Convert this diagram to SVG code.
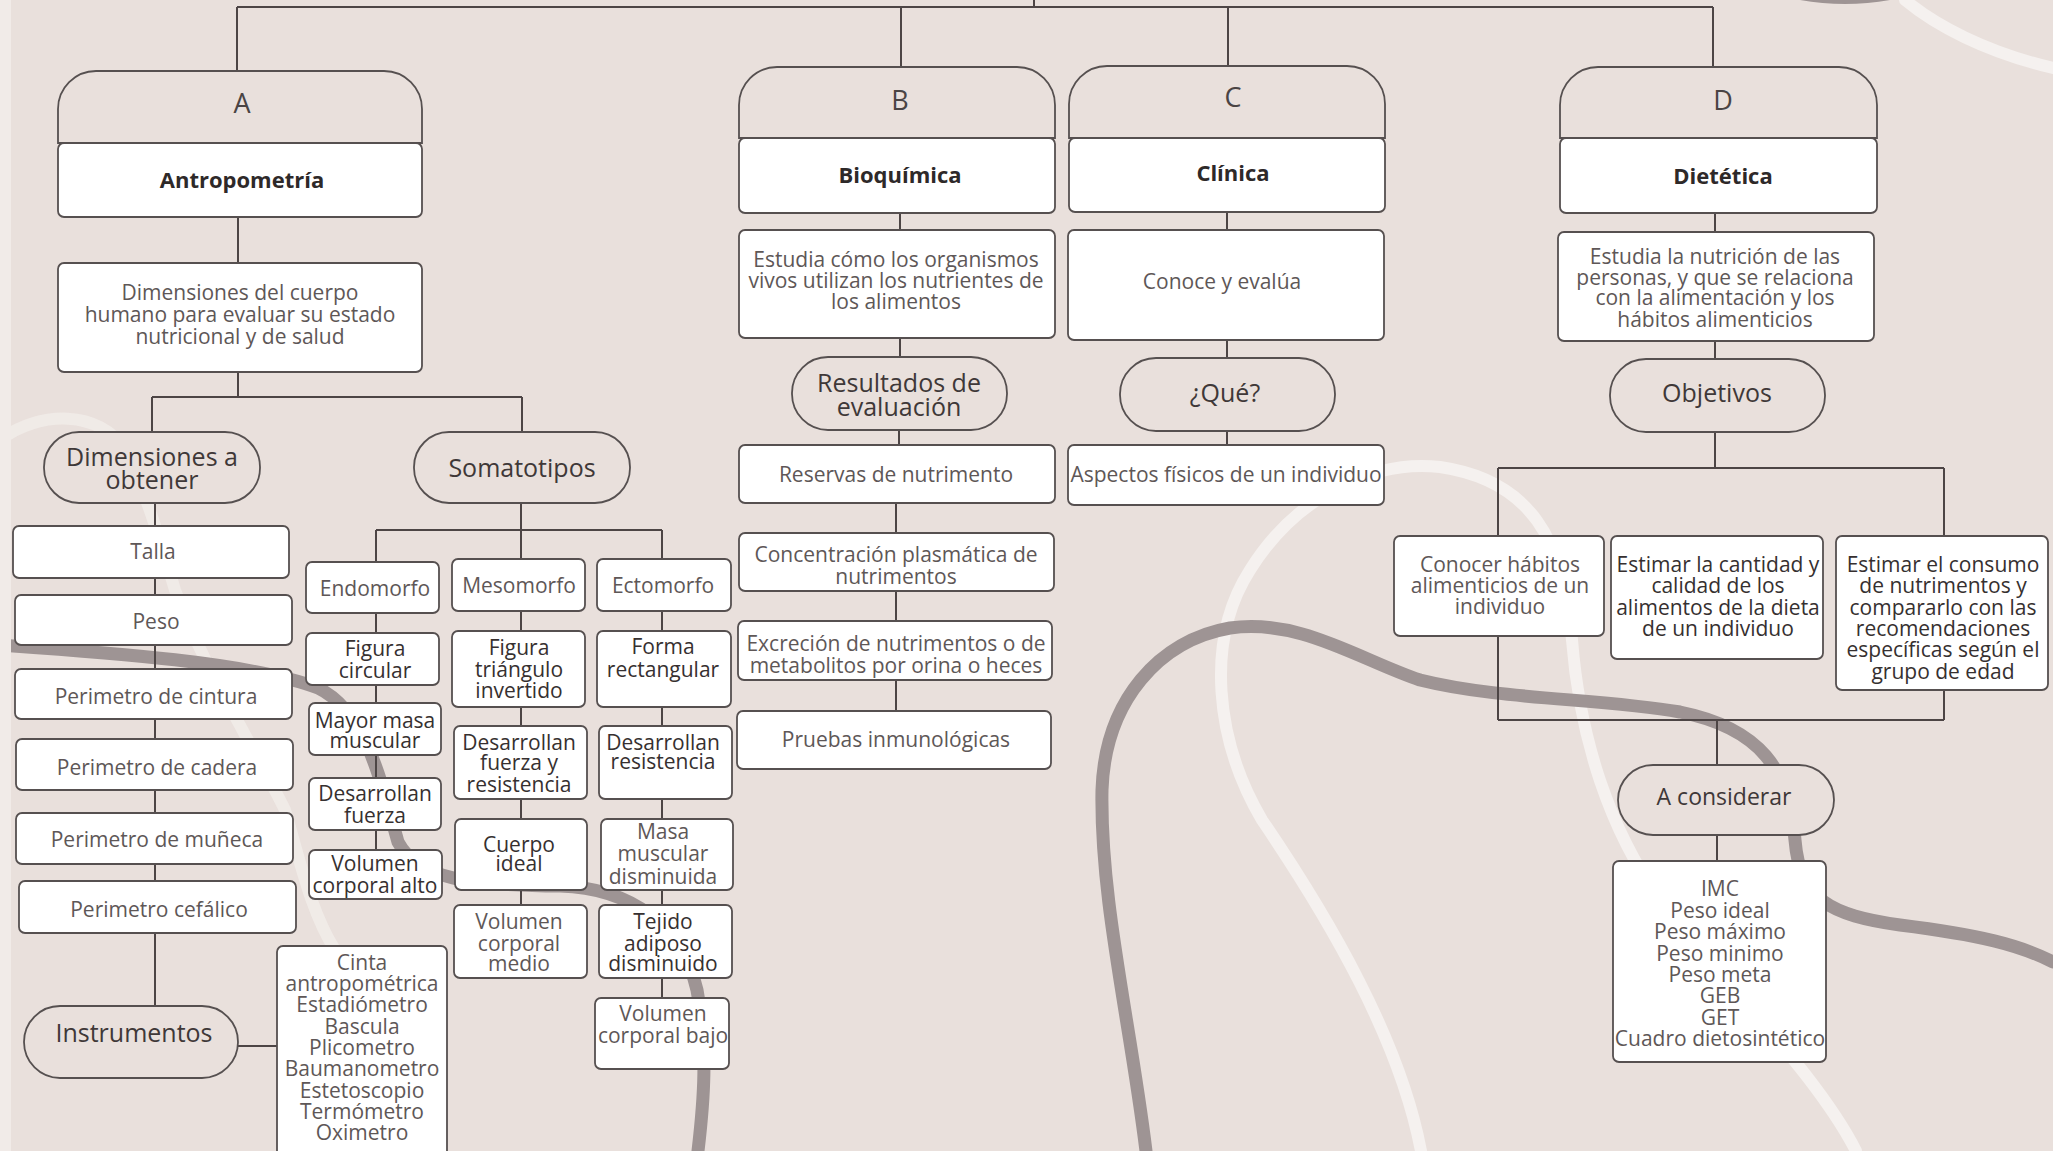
<svg xmlns="http://www.w3.org/2000/svg" width="2053" height="1151" viewBox="0 0 2053 1151">
<style>
.box{fill:#fff;stroke:#565050;stroke-width:1.8}
.pill{fill:#e9e0dc;stroke:#565050;stroke-width:1.8}
.hdr{fill:#e9e0dc;stroke:#565050;stroke-width:1.8}
.ln{fill:none;stroke:#4d4545;stroke-width:2}
text{font-family:"Open Sans","Liberation Sans",sans-serif;text-anchor:middle}
.t{font-size:21px;fill:#5e5757}
.td{font-size:21px;fill:#363030}
.tp{font-size:25px;fill:#3f3838}
.th{font-size:27px;fill:#4a4444}
.tb{font-size:22px;font-weight:700;fill:#2e2929}
.dg{fill:none;stroke:#9e9494;stroke-width:13;stroke-linecap:round}
.dw{fill:none;stroke:#f5f1ef;stroke-width:12;stroke-linecap:round}
</style>
<rect x="0" y="0" width="2053" height="1151" fill="#e9e0dc"/>
<g id="decoration">
<path class="dw" d="M1905,0 C1935,25 1985,52 2053,68"/>
<path d="M1800,0 Q1845,8 1890,0 Z" fill="#9e9494"/>
<path class="dw" style="opacity:0.6" d="M0,440 C40,410 100,410 125,450 C145,490 160,540 175,590 C200,660 250,740 285,810 C300,860 310,910 335,950"/>
<path class="dg" d="M0,645 C100,652 250,662 318,688 C368,712 383,790 398,842 C418,880 470,885 560,886 C630,888 682,925 697,990 C708,1050 704,1100 698,1151"/>
<path class="dw" d="M1421,1151 C1400,1040 1330,920 1262,820 C1215,740 1205,640 1250,570 C1300,490 1380,460 1440,467 C1530,480 1565,540 1572,640 C1580,740 1610,830 1660,900 C1740,1000 1820,1080 1856,1151"/>
<path class="dg" d="M1146,1151 C1130,1020 1100,900 1102,790 C1105,700 1160,640 1230,628 C1300,618 1360,660 1420,680 C1500,700 1600,698 1680,712 C1760,728 1790,770 1795,840 C1800,900 1830,915 1900,925 C1980,935 2020,945 2053,962"/>
<rect x="0" y="0" width="11" height="1151" fill="#f1ebe8"/>
</g>
<g id="connectors" class="ln">
<path d="M1034,0 V7 M237,7 H1713 M237,7 V71 M901,7 V67 M1228,7 V66 M1713,7 V67"/>
<path d="M238,217 V263 M238,372 V397 M152,397 H522 M152,397 V432 M522,397 V432"/>
<path d="M155,503 V1006 M238,1046 H277"/>
<path d="M521,503 V530 M376,530 H662 M376,530 V850 M521,530 V905 M662,530 V998"/>
<path d="M900,213 V230 M900,338 V357 M899,430 V445 M896,503 V711"/>
<path d="M1227,212 V230 M1227,340 V358 M1227,431 V445"/>
<path d="M1715,213 V232 M1715,341 V359 M1715,432 V468 M1498,468 H1944 M1498,468 V720 M1944,468 V720 M1498,720 H1944 M1717,720 V765 M1717,835 V861"/>
</g>
<g id="nodeA">
<path class="hdr" d="M58,143 V109 A38,38 0 0 1 96,71 H384 A38,38 0 0 1 422,109 V143 Z"/>
<rect class="box" x="58" y="143" width="364" height="74" rx="6"/>
<text class="th" x="242" y="113">A</text>
<text class="tb" x="242" y="188">Antropometría</text>
</g>
<g id="descA">
<rect class="box" x="58" y="263" width="364" height="109" rx="6"/>
<text class="t" x="240" y="300">Dimensiones del cuerpo</text>
<text class="t" x="240" y="322">humano para evaluar su estado</text>
<text class="t" x="240" y="344">nutricional y de salud</text>
</g>
<g id="dimensiones">
<rect class="pill" x="44" y="432" width="216" height="71" rx="35"/>
<text class="tp" x="152" y="466">Dimensiones a</text>
<text class="tp" x="152" y="489">obtener</text>
</g>
<g id="somatotipos">
<rect class="pill" x="414" y="432" width="216" height="71" rx="35"/>
<text class="tp" x="522" y="477">Somatotipos</text>
</g>
<g id="talla"><rect class="box" x="13" y="526" width="276" height="52" rx="6"/><text class="t" x="153" y="559">Talla</text></g>
<g id="peso"><rect class="box" x="15" y="595" width="277" height="50" rx="6"/><text class="t" x="156" y="629">Peso</text></g>
<g id="cintura"><rect class="box" x="15" y="669" width="277" height="50" rx="6"/><text class="t" x="156" y="704">Perimetro de cintura</text></g>
<g id="cadera"><rect class="box" x="16" y="739" width="277" height="51" rx="6"/><text class="t" x="157" y="775">Perimetro de cadera</text></g>
<g id="muneca"><rect class="box" x="16" y="813" width="277" height="51" rx="6"/><text class="t" x="157" y="847">Perimetro de muñeca</text></g>
<g id="cefalico"><rect class="box" x="19" y="881" width="277" height="52" rx="6"/><text class="t" x="159" y="917">Perimetro cefálico</text></g>
<g id="instrumentos">
<rect class="pill" x="24" y="1006" width="214" height="72" rx="36"/>
<text class="tp" x="134" y="1042">Instrumentos</text>
</g>
<g id="listaInstrumentos">
<rect class="box" x="277" y="946" width="170" height="220" rx="6"/>
<text class="t" x="362" y="970">Cinta</text>
<text class="t" x="362" y="991">antropométrica</text>
<text class="t" x="362" y="1012">Estadiómetro</text>
<text class="t" x="362" y="1034">Bascula</text>
<text class="t" x="362" y="1055">Plicometro</text>
<text class="t" x="362" y="1076">Baumanometro</text>
<text class="t" x="362" y="1098">Estetoscopio</text>
<text class="t" x="362" y="1119">Termómetro</text>
<text class="t" x="362" y="1140">Oximetro</text>
</g>
<g id="endomorfo"><rect class="box" x="306" y="562" width="133" height="51" rx="6"/><text class="t" x="375" y="596">Endomorfo</text></g>
<g id="figuraCircular"><rect class="box" x="306" y="633" width="133" height="52" rx="6"/><text class="td" x="375" y="656">Figura</text><text class="td" x="375" y="678">circular</text></g>
<g id="mayorMasa"><rect class="box" x="309" y="703" width="132" height="52" rx="6"/><text class="td" x="375" y="728">Mayor masa</text><text class="td" x="375" y="748">muscular</text></g>
<g id="desFuerza"><rect class="box" x="309" y="778" width="132" height="52" rx="6"/><text class="td" x="375" y="801">Desarrollan</text><text class="td" x="375" y="823">fuerza</text></g>
<g id="volAlto"><rect class="box" x="309" y="850" width="133" height="49" rx="6"/><text class="td" x="375" y="871">Volumen</text><text class="td" x="375" y="893">corporal alto</text></g>
<g id="mesomorfo"><rect class="box" x="452" y="559" width="133" height="52" rx="6"/><text class="t" x="519" y="593">Mesomorfo</text></g>
<g id="triangulo"><rect class="box" x="452" y="631" width="133" height="76" rx="6"/><text class="td" x="519" y="655">Figura</text><text class="td" x="519" y="677">triángulo</text><text class="td" x="519" y="698">invertido</text></g>
<g id="desFuerzaRes"><rect class="box" x="454" y="726" width="133" height="73" rx="6"/><text class="td" x="519" y="750">Desarrollan</text><text class="td" x="519" y="770">fuerza y</text><text class="td" x="519" y="792">resistencia</text></g>
<g id="cuerpoIdeal"><rect class="box" x="455" y="819" width="132" height="71" rx="6"/><text class="td" x="519" y="852">Cuerpo</text><text class="td" x="519" y="871">ideal</text></g>
<g id="volMedio"><rect class="box" x="454" y="905" width="133" height="73" rx="6"/><text class="t" x="519" y="929">Volumen</text><text class="t" x="519" y="951">corporal</text><text class="t" x="519" y="971">medio</text></g>
<g id="ectomorfo"><rect class="box" x="597" y="559" width="134" height="52" rx="6"/><text class="t" x="663" y="593">Ectomorfo</text></g>
<g id="formaRect"><rect class="box" x="597" y="631" width="134" height="76" rx="6"/><text class="td" x="663" y="654">Forma</text><text class="td" x="663" y="677">rectangular</text></g>
<g id="desRes"><rect class="box" x="599" y="726" width="133" height="73" rx="6"/><text class="td" x="663" y="750">Desarrollan</text><text class="td" x="663" y="769">resistencia</text></g>
<g id="masaDism"><rect class="box" x="601" y="819" width="132" height="71" rx="6"/><text class="t" x="663" y="839">Masa</text><text class="t" x="663" y="861">muscular</text><text class="t" x="663" y="884">disminuida</text></g>
<g id="tejido"><rect class="box" x="599" y="905" width="133" height="73" rx="6"/><text class="td" x="663" y="929">Tejido</text><text class="td" x="663" y="951">adiposo</text><text class="td" x="663" y="971">disminuido</text></g>
<g id="volBajo"><rect class="box" x="595" y="998" width="134" height="71" rx="6"/><text class="t" x="663" y="1021">Volumen</text><text class="t" x="663" y="1043">corporal bajo</text></g>
<g id="nodeB">
<path class="hdr" d="M739,138 V105 A38,38 0 0 1 777,67 H1017 A38,38 0 0 1 1055,105 V138 Z"/>
<rect class="box" x="739" y="138" width="316" height="75" rx="6"/>
<text class="th" x="900" y="110">B</text>
<text class="tb" x="900" y="183">Bioquímica</text>
</g>
<g id="descB">
<rect class="box" x="739" y="230" width="316" height="108" rx="6"/>
<text class="t" x="896" y="267">Estudia cómo los organismos</text>
<text class="t" x="896" y="288">vivos utilizan los nutrientes de</text>
<text class="t" x="896" y="309">los alimentos</text>
</g>
<g id="resultados">
<rect class="pill" x="792" y="357" width="215" height="73" rx="36"/>
<text class="tp" x="899" y="392">Resultados de</text>
<text class="tp" x="899" y="416">evaluación</text>
</g>
<g id="reservas"><rect class="box" x="739" y="445" width="316" height="58" rx="6"/><text class="t" x="896" y="482">Reservas de nutrimento</text></g>
<g id="concentracion"><rect class="box" x="739" y="533" width="315" height="58" rx="6"/><text class="t" x="896" y="562">Concentración plasmática de</text><text class="t" x="896" y="584">nutrimentos</text></g>
<g id="excrecion"><rect class="box" x="738" y="621" width="314" height="59" rx="6"/><text class="t" x="896" y="651">Excreción de nutrimentos o de</text><text class="t" x="896" y="673">metabolitos por orina o heces</text></g>
<g id="pruebas"><rect class="box" x="737" y="711" width="314" height="58" rx="6"/><text class="t" x="896" y="747">Pruebas inmunológicas</text></g>
<g id="nodeC">
<path class="hdr" d="M1069,138 V104 A38,38 0 0 1 1107,66 H1347 A38,38 0 0 1 1385,104 V138 Z"/>
<rect class="box" x="1069" y="138" width="316" height="74" rx="6"/>
<text class="th" x="1233" y="107">C</text>
<text class="tb" x="1233" y="181">Clínica</text>
</g>
<g id="descC"><rect class="box" x="1068" y="230" width="316" height="110" rx="6"/><text class="t" x="1222" y="289">Conoce y evalúa</text></g>
<g id="que"><rect class="pill" x="1120" y="358" width="215" height="73" rx="36"/><text class="tp" x="1225" y="402">¿Qué?</text></g>
<g id="aspectos"><rect class="box" x="1068" y="445" width="316" height="60" rx="6"/><text class="t" x="1226" y="482">Aspectos físicos de un individuo</text></g>
<g id="nodeD">
<path class="hdr" d="M1560,138 V105 A38,38 0 0 1 1598,67 H1839 A38,38 0 0 1 1877,105 V138 Z"/>
<rect class="box" x="1560" y="138" width="317" height="75" rx="6"/>
<text class="th" x="1723" y="110">D</text>
<text class="tb" x="1723" y="184">Dietética</text>
</g>
<g id="descD">
<rect class="box" x="1558" y="232" width="316" height="109" rx="6"/>
<text class="t" x="1715" y="264">Estudia la nutrición de las</text>
<text class="t" x="1715" y="285">personas, y que se relaciona</text>
<text class="t" x="1715" y="305">con la alimentación y los</text>
<text class="t" x="1715" y="327">hábitos alimenticios</text>
</g>
<g id="objetivos"><rect class="pill" x="1610" y="359" width="215" height="73" rx="36"/><text class="tp" x="1717" y="402">Objetivos</text></g>
<g id="obj1"><rect class="box" x="1394" y="536" width="210" height="100" rx="6"/><text class="t" x="1500" y="572">Conocer hábitos</text><text class="t" x="1500" y="593">alimenticios de un</text><text class="t" x="1500" y="614">individuo</text></g>
<g id="obj2"><rect class="box" x="1611" y="536" width="212" height="123" rx="6"/><text class="td" x="1718" y="572">Estimar la cantidad y</text><text class="td" x="1718" y="593">calidad de los</text><text class="td" x="1718" y="615">alimentos de la dieta</text><text class="td" x="1718" y="636">de un individuo</text></g>
<g id="obj3"><rect class="box" x="1836" y="536" width="212" height="154" rx="6"/><text class="td" x="1943" y="572">Estimar el consumo</text><text class="td" x="1943" y="593">de nutrimentos y</text><text class="td" x="1943" y="615">compararlo con las</text><text class="td" x="1943" y="636">recomendaciones</text><text class="td" x="1943" y="657">específicas según el</text><text class="td" x="1943" y="679">grupo de edad</text></g>
<g id="considerar"><rect class="pill" x="1618" y="765" width="216" height="70" rx="35"/><text class="tp" style="font-size:23px" x="1724" y="805">A considerar</text></g>
<g id="listaD">
<rect class="box" x="1613" y="861" width="213" height="201" rx="6"/>
<text class="t" x="1720" y="896">IMC</text>
<text class="t" x="1720" y="918">Peso ideal</text>
<text class="t" x="1720" y="939">Peso máximo</text>
<text class="t" x="1720" y="961">Peso minimo</text>
<text class="t" x="1720" y="982">Peso meta</text>
<text class="t" x="1720" y="1003">GEB</text>
<text class="t" x="1720" y="1025">GET</text>
<text class="t" x="1720" y="1046">Cuadro dietosintético</text>
</g>
</svg>
